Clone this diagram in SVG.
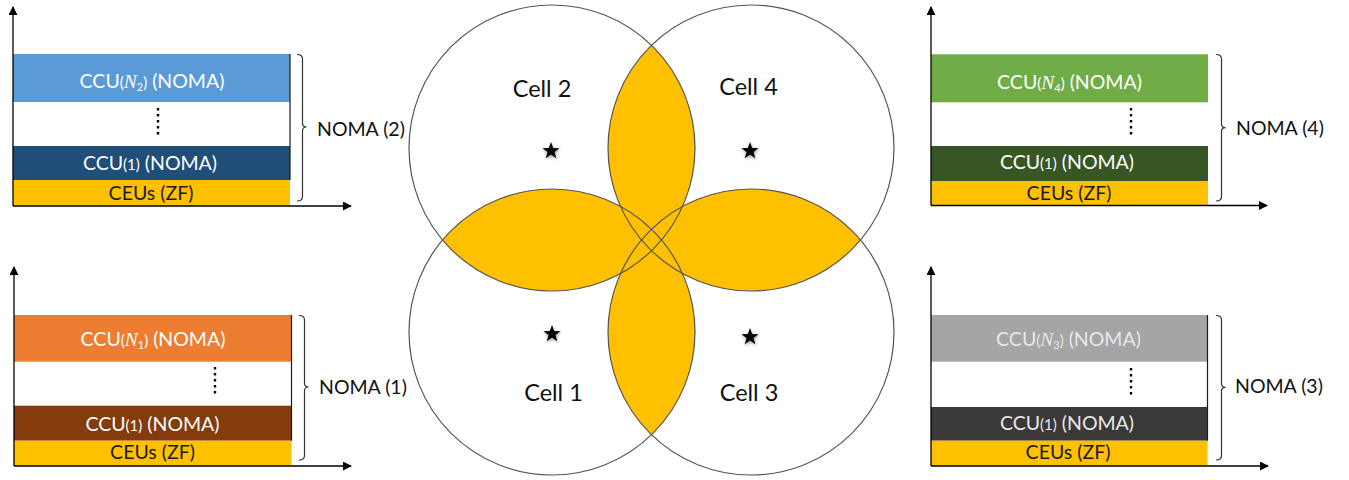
<svg xmlns="http://www.w3.org/2000/svg" width="1349" height="480" viewBox="0 0 1349 480">
  <defs>
    <marker id="arr" viewBox="0 0 10 10" refX="9" refY="5" markerWidth="9" markerHeight="9" markerUnits="userSpaceOnUse" orient="auto">
      <path d="M0,0 L10,5 L0,10 Z" fill="#000"/>
    </marker>
    <filter id="sh" x="-50%" y="-50%" width="200%" height="200%">
      <feDropShadow dx="0.5" dy="1.2" stdDeviation="1.4" flood-color="#000" flood-opacity="0.45"/>
    </filter>
    <path id="star" d="M0,-9 L2.12,-2.92 L8.56,-2.78 L3.43,1.12 L5.29,7.28 L0,3.6 L-5.29,7.28 L-3.43,1.12 L-8.56,-2.78 L-2.12,-2.92 Z"/>
  </defs>
  <style>
    text { font-family: Lato, "Liberation Sans", sans-serif; }
    .band { font-size: 19.5px; text-anchor: middle; fill: #ffffff; }
    .dark { fill: #1a1a1a; }
    .lg { fill: #e8e8e8; }
    .noma { font-size: 19.5px; fill: #111; }
    .cell { font-size: 23.5px; fill: #111; text-anchor: middle; }
    .math { font-family: "Liberation Serif", serif; font-style: italic; }
    .sm { font-size: 15px; }
    .sub { font-size: 11px; }
    .axis { stroke: #000; stroke-width: 1.3; fill: none; marker-end: url(#arr); }
    .brace { stroke: #333; stroke-width: 1.2; fill: none; }
    .dots { stroke: #000; stroke-width: 2.4; stroke-dasharray: 2.4 3.6; }
    .edge { stroke: #1a1a1a; stroke-width: 1.2; }
    .circ { fill: none; stroke: #555; stroke-width: 1.2; }
    .lens { fill: #ffc000; stroke: none; }
  </style>

  <!-- Cells -->
  <g id="cells">
    <circle cx="552" cy="148" r="143" fill="#fff"/>
    <circle cx="751" cy="148" r="143" fill="#fff"/>
    <circle cx="552" cy="332" r="143" fill="#fff"/>
    <circle cx="751" cy="332" r="143" fill="#fff"/>
    <path class="lens" d="M651.5,45.3 A143,143 0 0 0 651.5,250.7 A143,143 0 0 0 651.5,45.3 Z"/>
    <path class="lens" d="M651.5,229.3 A143,143 0 0 0 651.5,434.7 A143,143 0 0 0 651.5,229.3 Z"/>
    <path class="lens" d="M442.5,240 A143,143 0 0 1 661.5,240 A143,143 0 0 1 442.5,240 Z"/>
    <path class="lens" d="M641.5,240 A143,143 0 0 1 860.5,240 A143,143 0 0 1 641.5,240 Z"/>
    <circle class="circ" cx="552" cy="148" r="143"/>
    <circle class="circ" cx="751" cy="148" r="143"/>
    <circle class="circ" cx="552" cy="332" r="143"/>
    <circle class="circ" cx="751" cy="332" r="143"/>
  </g>
  <g id="cell2">
    <text class="cell" x="542" y="97">Cell 2</text>
    <use href="#star" x="551" y="151" filter="url(#sh)"/>
  </g>
  <g id="cell4">
    <text class="cell" x="748.5" y="95">Cell 4</text>
    <use href="#star" x="750" y="151" filter="url(#sh)"/>
  </g>
  <g id="cell1">
    <text class="cell" x="553.5" y="401">Cell 1</text>
    <use href="#star" x="552" y="334" filter="url(#sh)"/>
  </g>
  <g id="cell3">
    <text class="cell" x="749" y="401">Cell 3</text>
    <use href="#star" x="750" y="337" filter="url(#sh)"/>
  </g>

  <!-- Panel NOMA (2): top-left -->
  <g id="panel2">
    <rect x="13" y="54" width="277" height="48" fill="#5b9bd5"/>
    <rect x="13" y="146" width="277" height="34" fill="#1f4e79"/>
    <rect x="13" y="180" width="277" height="26" fill="#ffc000"/>
    <line class="edge" x1="290" y1="54" x2="290" y2="180"/>
    <text class="band" x="152" y="88">CCU<tspan class="sm">(</tspan><tspan class="math">N</tspan><tspan class="sub" dy="3">2</tspan><tspan class="sm" dy="-3">)</tspan> (NOMA)</text>
    <text class="band" x="150" y="170">CCU<tspan class="sm">(1)</tspan> (NOMA)</text>
    <text class="band dark" x="151" y="200">CEUs (ZF)</text>
    <line class="dots" x1="158" y1="108" x2="158" y2="138"/>
    <path class="brace" d="M297,54.5 Q302.5,54.5 302.5,59 V123 Q302.5,127 306.5,127 Q302.5,127 302.5,131 V196.5 Q302.5,201 297,201"/>
    <text class="noma" x="317" y="136">NOMA (2)</text>
  </g>

  <!-- Panel NOMA (1): bottom-left -->
  <g id="panel1">
    <rect x="14" y="315" width="277.5" height="46.7" fill="#ed7d31"/>
    <rect x="14" y="405.7" width="277.5" height="35" fill="#843c0c"/>
    <rect x="14" y="440.7" width="277.5" height="25.3" fill="#ffc000"/>
    <line class="edge" x1="291.5" y1="315" x2="291.5" y2="440.7"/>
    <text class="band" x="153" y="346">CCU<tspan class="sm">(</tspan><tspan class="math">N</tspan><tspan class="sub" dy="3">1</tspan><tspan class="sm" dy="-3">)</tspan> (NOMA)</text>
    <text class="band" x="152.5" y="431">CCU<tspan class="sm">(1)</tspan> (NOMA)</text>
    <text class="band dark" x="152.5" y="458.5">CEUs (ZF)</text>
    <line class="dots" x1="215" y1="367" x2="215" y2="397"/>
    <path class="brace" d="M299,315.5 Q304.5,315.5 304.5,320 V383 Q304.5,387 308.5,387 Q304.5,387 304.5,391 V455.5 Q304.5,460 299,460"/>
    <text class="noma" x="319" y="393.5">NOMA (1)</text>
  </g>

  <!-- Panel NOMA (4): top-right -->
  <g id="panel4">
    <rect x="931" y="54.3" width="277" height="48" fill="#70ad47"/>
    <rect x="931" y="146" width="277" height="35" fill="#375623"/>
    <rect x="931" y="181" width="277" height="24.5" fill="#ffc000"/>
    <text class="band" x="1069.5" y="88.5">CCU<tspan class="sm">(</tspan><tspan class="math">N</tspan><tspan class="sub" dy="3">4</tspan><tspan class="sm" dy="-3">)</tspan> (NOMA)</text>
    <text class="band" x="1067" y="168.5">CCU<tspan class="sm">(1)</tspan> (NOMA)</text>
    <text class="band dark" x="1069" y="200">CEUs (ZF)</text>
    <line class="dots" x1="1131" y1="108" x2="1131" y2="138"/>
    <path class="brace" d="M1216,54.5 Q1221.5,54.5 1221.5,59 V123.7 Q1221.5,127.7 1225.5,127.7 Q1221.5,127.7 1221.5,131.7 V196.5 Q1221.5,201 1216,201"/>
    <text class="noma" x="1236" y="134.5">NOMA (4)</text>
  </g>

  <!-- Panel NOMA (3): bottom-right -->
  <g id="panel3">
    <rect x="931" y="315" width="276.5" height="46.7" fill="#a5a5a5"/>
    <rect x="931" y="407" width="276.5" height="33.7" fill="#3b3838"/>
    <rect x="931" y="440.7" width="276.5" height="25.3" fill="#ffc000"/>
    <line class="edge" x1="1207.5" y1="315" x2="1207.5" y2="440.7"/>
    <text class="band lg" x="1068.5" y="346">CCU<tspan class="sm">(</tspan><tspan class="math">N</tspan><tspan class="sub" dy="3">3</tspan><tspan class="sm" dy="-3">)</tspan> (NOMA)</text>
    <text class="band lg" x="1067" y="430">CCU<tspan class="sm">(1)</tspan> (NOMA)</text>
    <text class="band dark" x="1068" y="458.5">CEUs (ZF)</text>
    <line class="dots" x1="1131" y1="368" x2="1131" y2="398"/>
    <path class="brace" d="M1216,315.5 Q1221.5,315.5 1221.5,320 V383.3 Q1221.5,387.3 1225.5,387.3 Q1221.5,387.3 1221.5,391.3 V455.5 Q1221.5,460 1216,460"/>
    <text class="noma" x="1235" y="393">NOMA (3)</text>
  </g>

  <!-- Axes -->
  <g id="connectors">
    <line class="axis" x1="13" y1="206" x2="13" y2="7"/>
    <line class="axis" x1="13" y1="206" x2="351" y2="206"/>
    <line class="axis" x1="14" y1="466" x2="14" y2="267"/>
    <line class="axis" x1="14" y1="466" x2="351" y2="466"/>
    <line class="axis" x1="931" y1="205.5" x2="931" y2="7"/>
    <line class="axis" x1="931" y1="205.5" x2="1267" y2="205.5"/>
    <line class="axis" x1="931" y1="466" x2="931" y2="267"/>
    <line class="axis" x1="931" y1="466" x2="1268" y2="466"/>
  </g>
</svg>
